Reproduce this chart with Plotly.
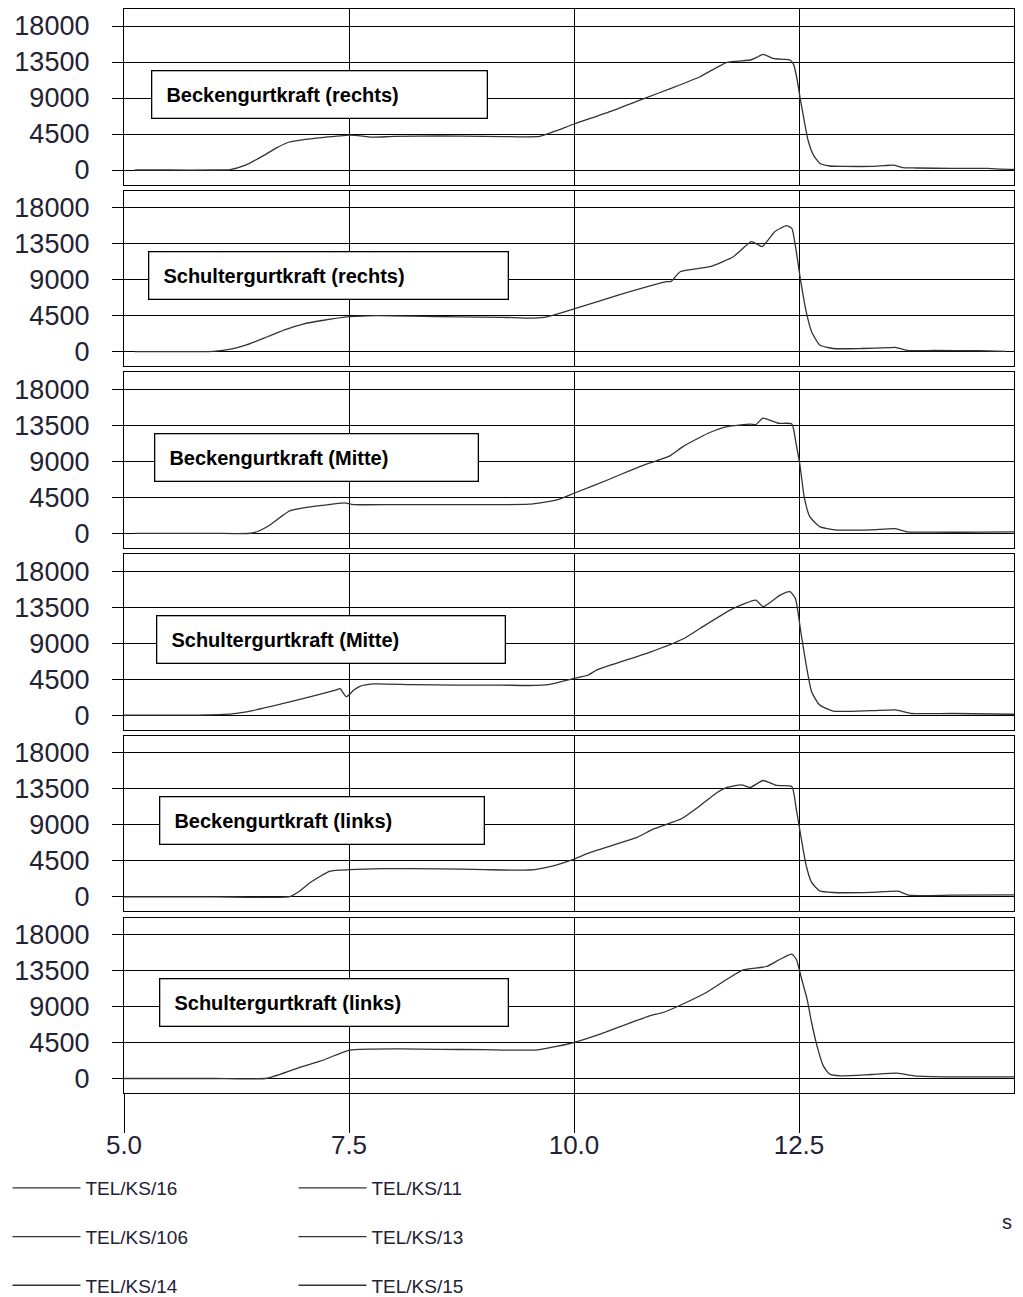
import plotly.graph_objects as go

# ---------------- data ----------------
panel_titles = [
    "Beckengurtkraft (rechts)",
    "Schultergurtkraft (rechts)",
    "Beckengurtkraft (Mitte)",
    "Schultergurtkraft (Mitte)",
    "Beckengurtkraft (links)",
    "Schultergurtkraft (links)",
]
channel_names = ["TEL/KS/16", "TEL/KS/11", "TEL/KS/106", "TEL/KS/13", "TEL/KS/14", "TEL/KS/15"]
y_ticks = [0, 4500, 9000, 13500, 18000]
y_tick_labels = ["0", "4500", "9000", "13500", "18000"]
x_ticks = [5.0, 7.5, 10.0, 12.5]
x_tick_labels = ["5.0", "7.5", "10.0", "12.5"]
x_unit = "s"

t_becken_rechts = [5.12, 5.5, 6.0, 6.18, 6.35, 6.55, 6.7, 6.84, 7.0, 7.2, 7.5, 7.6, 7.75, 8.0, 8.5, 9.0, 9.4, 9.62,
                   9.8, 10.0, 10.4, 10.77, 11.1, 11.4, 11.7, 11.96, 12.03, 12.1, 12.21, 12.32, 12.4, 12.44, 12.48,
                   12.51, 12.55, 12.6, 12.66, 12.73, 12.84, 13.0, 13.3, 13.45, 13.55, 13.65, 13.8, 14.2, 14.6, 14.75, 14.95]
f_becken_rechts = [0, 0, 0, 50, 600, 1800, 2800, 3500, 3800, 4050, 4350, 4300, 4100, 4200, 4250, 4200, 4150, 4200,
                   4900, 5750, 7300, 8900, 10300, 11660, 13460, 13750, 14080, 14460, 13960, 13830, 13750, 13200, 11250,
                   9160, 6660, 3750, 1875, 840, 500, 450, 450, 550, 600, 300, 250, 200, 200, 100, 50]

t_schulter_rechts = [5.12, 5.6, 5.99, 6.2, 6.36, 6.6, 6.8, 6.99, 7.2, 7.51, 7.8, 8.2, 8.7, 9.2, 9.55, 9.7, 10.0, 10.5,
                     11.03, 11.08, 11.18, 11.51, 11.77, 11.97, 12.04, 12.09, 12.16, 12.23, 12.36, 12.42, 12.47, 12.52,
                     12.58, 12.64, 12.73, 12.88, 13.2, 13.5, 13.57, 13.7, 14.0, 14.5, 14.8]
f_schulter_rechts = [0, 0, 30, 350, 840, 1900, 2800, 3460, 3900, 4375, 4500, 4450, 4350, 4300, 4200, 4350, 5340, 7100,
                     8750, 8800, 10000, 10625, 11875, 13750, 13400, 13125, 14000, 15000, 15750, 15420, 12500, 8750,
                     5000, 2500, 840, 400, 400, 500, 550, 150, 150, 120, 50]

t_becken_mitte = [5.12, 6.0, 6.43, 6.6, 6.84, 7.0, 7.2, 7.45, 7.55, 8.0, 8.5, 9.0, 9.5, 9.81, 10.0, 10.4, 10.73, 11.07,
                  11.21, 11.49, 11.7, 11.96, 12.02, 12.1, 12.27, 12.42, 12.47, 12.51, 12.56, 12.62, 12.73, 12.9, 13.3,
                  13.57, 13.7, 14.0, 14.5, 14.95]
f_becken_mitte = [0, 0, 50, 900, 2810, 3200, 3500, 3810, 3600, 3600, 3600, 3600, 3650, 4190, 5020, 6800, 8350, 9730,
                  10850, 12520, 13350, 13650, 13600, 14400, 13770, 13690, 11060, 8560, 4400, 2100, 850, 440, 450,
                  600, 200, 150, 150, 200]

t_schulter_mitte = [5.0, 5.8, 6.2, 6.43, 6.84, 7.14, 7.36, 7.4, 7.47, 7.55, 7.62, 7.77, 8.2, 8.7, 9.2, 9.5, 9.73, 10.0,
                    10.16, 10.25, 10.84, 11.21, 11.4, 11.77, 12.02, 12.1, 12.29, 12.4, 12.46, 12.52, 12.58, 12.64,
                    12.73, 12.88, 13.3, 13.57, 13.75, 14.2, 14.95]
f_schulter_mitte = [0, 0, 150, 560, 1640, 2510, 3160, 3300, 2290, 3100, 3600, 3900, 3800, 3750, 3750, 3700, 3840, 4590,
                    5010, 5630, 7840, 9510, 10830, 13330, 14380, 13550, 15000, 15420, 14590, 10420, 6260, 2920,
                    1250, 500, 550, 650, 200, 200, 100]

t_becken_links = [5.0, 6.0, 6.84, 6.95, 7.07, 7.29, 7.51, 7.88, 8.5, 9.0, 9.5, 9.77, 10.0, 10.16, 10.7, 10.88, 11.2,
                  11.4, 11.59, 11.7, 11.86, 11.96, 12.1, 12.25, 12.42, 12.47, 12.52, 12.58, 12.64, 12.73, 12.88, 13.3,
                  13.6, 13.72, 14.2, 14.95]
f_becken_links = [0, 0, 30, 700, 1780, 3210, 3390, 3510, 3500, 3400, 3350, 3880, 4710, 5460, 7420, 8460, 9790,
                  11370, 13040, 13670, 14000, 13670, 14540, 13920, 13800, 10960, 7630, 3880, 1800, 750, 540, 550,
                  700, 200, 200, 250]

t_schulter_links = [5.0, 6.0, 6.59, 6.96, 7.18, 7.51, 8.07, 8.5, 9.0, 9.6, 10.0, 10.29, 10.84, 10.99, 11.18, 11.47,
                    11.7, 11.88, 12.14, 12.29, 12.42, 12.47, 12.53, 12.59, 12.64, 12.7, 12.77, 12.84, 12.96, 13.3,
                    13.59, 13.78, 14.2, 14.95]
f_schulter_links = [0, 0, 30, 1410, 2160, 3540, 3700, 3650, 3600, 3580, 4500, 5540, 7830, 8250, 9160, 10750,
                    12410, 13580, 14000, 14910, 15540, 14910, 12410, 9910, 7000, 4080, 1580, 540, 330, 500,
                    660, 330, 200, 200]

series_t = [t_becken_rechts, t_schulter_rechts, t_becken_mitte, t_schulter_mitte, t_becken_links, t_schulter_links]
series_f = [f_becken_rechts, f_schulter_rechts, f_becken_mitte, f_schulter_mitte, f_becken_links, f_schulter_links]

# ---------------- layout geometry (figure pixels; page body adds an 8 px offset) ----------------
W, H = 1015, 1289
M_L, M_R, M_T, M_B = 116, 9, 1, 204
PW = W - M_L - M_R
PH = H - M_T - M_B
X_RANGE = [5.0, 5.0 + PW / 90.0]
panel_h = 175.5
pitch = 181.7
box_left = [143, 140, 146, 148, 151, 151]
box_right = [480, 501, 471, 498, 477, 501]
box_h = 49

fig = go.Figure()
LINE = "#000000"
GRIDW = 1.3
TICKFONT = dict(family="Liberation Sans, Arial, sans-serif", size=27, color="#222233")
XTICKFONT = dict(family="Liberation Sans, Arial, sans-serif", size=26, color="#222233")

for k in range(6):
    n = k + 1
    xa = "x" if n == 1 else f"x{n}"
    ya = "y" if n == 1 else f"y{n}"
    fig.add_trace(go.Scatter(
        x=series_t[k], y=series_f[k], mode="lines",
        line=dict(color="#333333", width=1.3, shape="spline", smoothing=0.5),
        name=channel_names[k], xaxis=xa, yaxis=ya,
        legend="legend" if k % 2 == 0 else "legend2",
        legendgroup=f"g{k}",
        hoverinfo="skip",
    ))
    top = k * pitch
    bot = top + panel_h
    dom = [max(0.0, 1 - bot / PH), 1 - top / PH]
    xkey = "xaxis" if n == 1 else f"xaxis{n}"
    ykey = "yaxis" if n == 1 else f"yaxis{n}"
    xcfg = dict(
        anchor=ya, range=X_RANGE, tickvals=x_ticks, ticktext=x_tick_labels, showgrid=True,
        gridcolor=LINE, gridwidth=GRIDW,
        showline=True, mirror=True, linecolor=LINE, linewidth=GRIDW, zeroline=False, domain=[0, 1],
    )
    if n < 6:
        xcfg.update(ticks="", showticklabels=False, matches="x6")
    else:
        xcfg.update(ticks="outside", ticklen=39, tickwidth=GRIDW, tickcolor=LINE, tickfont=XTICKFONT,
                    ticklabelstandoff=-10)
    fig.layout[xkey] = xcfg
    fig.layout[ykey] = dict(
        anchor=xa, domain=dom, range=[-1812, 20125], tickvals=y_ticks, ticktext=y_tick_labels,
        ticks="outside", ticklen=11,
        tickwidth=GRIDW, tickcolor=LINE, showgrid=True, gridcolor=LINE, gridwidth=GRIDW,
        showline=True, mirror=True, linecolor=LINE, linewidth=GRIDW, zeroline=False,
        tickfont=TICKFONT, ticklabelstandoff=17,
    )
    pad, bw = 3, 1.3
    fig.add_annotation(
        xref=f"{xa} domain", yref=f"{ya} domain",
        x=(box_left[k] - M_L) / PW, y=1 - 85.1 / panel_h,
        xanchor="left", yanchor="middle",
        text="\u00a0\u00a0<b>" + panel_titles[k] + "</b>", showarrow=False, align="left",
        width=box_right[k] - box_left[k] - 2 * pad - 2 * bw, height=box_h - 2 * pad - 2 * bw,
        borderpad=pad, borderwidth=bw, bordercolor=LINE, bgcolor="white",
        font=dict(family="Liberation Sans, Arial, sans-serif", size=20, color="black"),
    )

fig.add_annotation(
    xref="paper", yref="paper", x=1.0, y=(PH + M_T - 1214) / PH,
    xanchor="right", yanchor="middle", text=x_unit, showarrow=False,
    font=dict(family="Liberation Sans, Arial, sans-serif", size=20, color="#222233"),
)

legend_common = dict(
    orientation="v", traceorder="grouped", tracegroupgap=21, itemwidth=68,
    font=dict(family="Liberation Sans, Arial, sans-serif", size=19, color="#222233"),
    bgcolor="rgba(0,0,0,0)", borderwidth=0, xanchor="left", yanchor="top",
    y=(PH + M_T - 1161) / PH,
)
fig.update_layout(
    width=W, height=H, margin=dict(l=M_L, r=M_R, t=M_T, b=M_B, autoexpand=False),
    paper_bgcolor="white", plot_bgcolor="white", showlegend=True,
    legend=dict(legend_common, x=(-0.5 - M_L) / PW),
    legend2=dict(legend_common, x=(285.5 - M_L) / PW),
)

fig.write_html("out.html")
